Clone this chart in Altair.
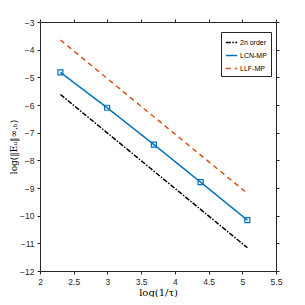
import altair as alt
import pandas as pd

x_vals = [2.3026, 2.9957, 3.6889, 4.3820, 5.0752]
order2 = [-5.62, -7.005, -8.39, -9.775, -11.16]
lcn = [-4.82, -6.10, -7.43, -8.79, -10.16]
llf = [-3.65, -5.04, -6.425, -7.81, -9.19]
series = ["2n order", "LCN-MP", "LLF-MP"]
colors = ["#000000", "#0072BD", "#D95319"]
dashes = [[5, 1.5, 1.5, 1.5], [1, 0], [5, 4]]
x_ticks = [2, 2.5, 3, 3.5, 4, 4.5, 5, 5.5]
y_ticks = [-12, -11, -10, -9, -8, -7, -6, -5, -4, -3]

rows = []
for name, vals in zip(series, [order2, lcn, llf]):
    for xv, yv in zip(x_vals, vals):
        rows.append({"x": xv, "y": yv, "series": name})
df = pd.DataFrame(rows)

xs = alt.Scale(domain=[2, 5.5], nice=False)
ys = alt.Scale(domain=[-12, -3], nice=False)
common = dict(grid=False, tickSize=3, domainColor="#262626", tickColor="#262626",
              labelColor="#262626", labelFont="Liberation Sans", labelOverlap=False,
              labelFontSize=8.5, labelFlush=False)
xax = alt.Axis(values=x_ticks, title="log(1/τ)", titleFontSize=10, titleFont="DejaVu Serif",
               titleFontWeight="normal", labelPadding=3, titlePadding=2,
               format="~g", **common)
yax = alt.Axis(values=y_ticks, title="log(‖Eᵤ‖∞,ₕ)", titleFontSize=9, titleFont="DejaVu Serif",
               titleFontWeight="normal", labelPadding=3, titlePadding=1,
               format="~g", **common)
xtop = alt.Axis(values=x_ticks, orient="top", labels=False, title=None, **common)
yright = alt.Axis(values=y_ticks, orient="right", labels=False, title=None, **common)

base = alt.Chart(df)
lines = base.mark_line(strokeWidth=1.5).encode(
    x=alt.X("x:Q", scale=xs, axis=xax),
    y=alt.Y("y:Q", scale=ys, axis=yax),
    color=alt.Color("series:N", scale=alt.Scale(domain=series, range=colors),
                    legend=alt.Legend(title=None, orient="none", legendX=181, legendY=10,
                                      fillColor="white", strokeColor="#262626",
                                      padding=4, labelFontSize=7, symbolType="stroke",
                                      symbolSize=130, symbolStrokeWidth=1.5,
                                      labelOffset=2, rowPadding=3,
                                      labelFont="Liberation Sans")),
    strokeDash=alt.StrokeDash("series:N", scale=alt.Scale(domain=series, range=dashes),
                              legend=None),
)
pts = base.transform_filter(alt.datum.series == "LCN-MP").mark_point(
    shape="square", filled=False, size=25, strokeWidth=1.2, color="#0072BD", opacity=1
).encode(x=alt.X("x:Q", scale=xs, axis=xtop), y=alt.Y("y:Q", scale=ys, axis=yright))

chart = (lines + pts).resolve_axis(x="independent", y="independent").properties(
    width=236, height=249,
    autosize=alt.AutoSizeParams(type="none"),
    padding={"left": 32, "top": 14, "right": 10, "bottom": 26},
).configure_view(stroke=None).configure(background="white")

chart.save("out.html", embed_options={"renderer": "svg", "actions": False})
